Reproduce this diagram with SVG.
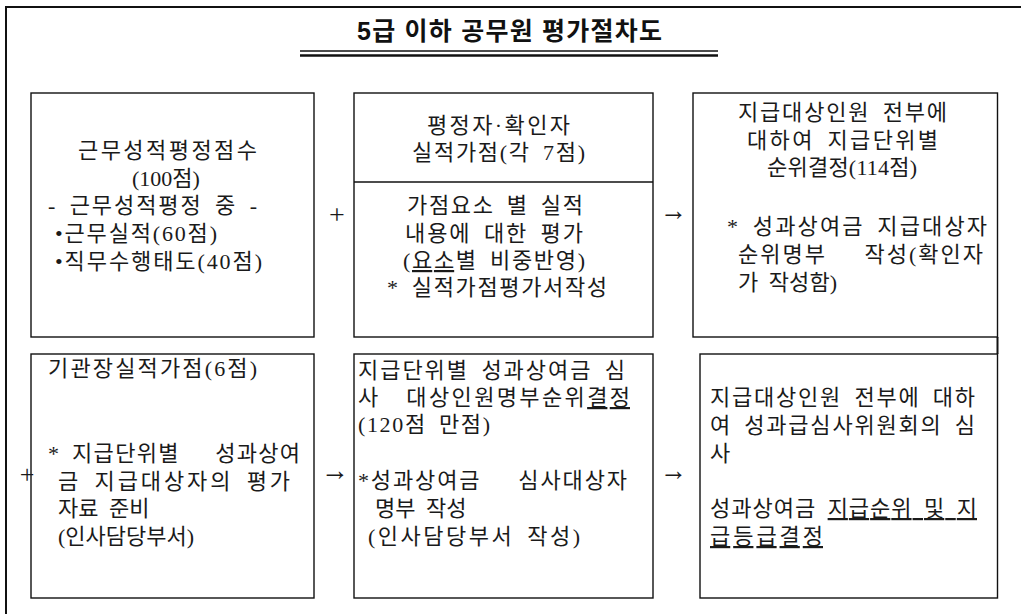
<svg xmlns="http://www.w3.org/2000/svg" width="1021" height="614" viewBox="0 0 1021 614">
<style>
.t{font-family:"Liberation Serif","Noto Sans CJK KR",serif;font-size:22px;fill:#1a1a1a;white-space:pre;word-spacing:5px}
.m{text-anchor:middle}
.u{text-decoration:underline}
.box{fill:#fff;stroke:#111;stroke-width:1.4}
.frame{stroke:#111;stroke-width:2;fill:none}
.sym{font-family:"Liberation Serif","DejaVu Serif",serif;fill:#1a1a1a;text-anchor:middle}
.arr{font-family:"Liberation Serif","DejaVu Serif",serif;fill:#1a1a1a;font-size:30px}
.title{font-family:"Liberation Sans","Noto Sans CJK KR",sans-serif;font-size:25px;font-weight:bold;fill:#111;text-anchor:middle;white-space:pre}
</style>
<rect width="1021" height="614" fill="#fff"/>
<g id="frame">
<line class="frame" x1="5" y1="7" x2="1021" y2="7" stroke-width="2.5"/>
<line class="frame" x1="6" y1="7" x2="6" y2="614"/>
<line class="frame" x1="997.5" y1="337" x2="997.5" y2="354" stroke-width="1.4"/>
</g>
<g id="title">
<text class="title" x="509.5" y="40" textLength="305" lengthAdjust="spacing">5급 이하 공무원 평가절차도</text>
<line x1="300" y1="51" x2="718" y2="51" stroke="#111" stroke-width="1.5"/>
<line x1="300" y1="55.5" x2="718" y2="55.5" stroke="#111" stroke-width="2.5"/>
</g>
<g id="node-a">
<rect class="box" x="31" y="93" width="283" height="244"/>
<text class="t" x="78" y="158" textLength="179">근무성적평정점수</text>
<text class="t" x="132" y="186">(100점)</text>
<text class="t" x="48" y="213" textLength="209">- 근무성적평정 중 -</text>
<text class="t" x="55" y="241" textLength="162">•근무실적(60점)</text>
<text class="t" x="55" y="269" textLength="207">•직무수행태도(40점)</text>
</g>
<g id="node-b">
<rect class="box" x="354" y="93" width="299" height="244"/>
<line x1="354" y1="182" x2="653" y2="182" stroke="#111" stroke-width="1.4"/>
<text class="t m" x="498.5" y="133" textLength="143">평정자·확인자</text>
<text class="t m" x="498.5" y="160" textLength="173">실적가점(각 7점)</text>
<text class="t m" x="495" y="213" textLength="176">가점요소 별 실적</text>
<text class="t m" x="494" y="241" textLength="178">내용에 대한 평가</text>
<text class="t m" x="494" y="268" textLength="182">(<tspan class="u">요소</tspan>별 비중반영)</text>
<text class="t m" x="497" y="295" textLength="220">* 실적가점평가서작성</text>
</g>
<g id="node-c">
<rect class="box" x="693" y="93" width="304.5" height="244"/>
<text class="t" x="738" y="120" textLength="209">지급대상인원 전부에</text>
<text class="t" x="747" y="148" textLength="191">대하여 지급단위별</text>
<text class="t" x="767" y="175" textLength="150">순위결정(114점)</text>
<text class="t" x="727" y="234" textLength="260">* 성과상여금 지급대상자</text>
<text class="t" x="738" y="262" textLength="245">순위명부   작성(확인자</text>
<text class="t" x="738" y="290" textLength="99">가 작성함)</text>
</g>
<g id="node-d">
<rect class="box" x="31" y="354" width="283" height="244"/>
<text class="t" x="48" y="376" textLength="209">기관장실적가점(6점)</text>
<text class="t" x="48" y="461" textLength="252">* 지급단위별   성과상여</text>
<text class="t" x="58" y="489" textLength="232">금 지급대상자의 평가</text>
<text class="t" x="58" y="516">자료 준비</text>
<text class="t" x="58" y="544">(인사담당부서)</text>
</g>
<g id="node-e">
<rect class="box" x="354" y="354" width="299" height="244"/>
<text class="t" x="358" y="378" textLength="267">지급단위별 성과상여금 심</text>
<text class="t" x="358" y="405" textLength="272">사  대상인원명부순위<tspan class="u">결정</tspan></text>
<text class="t" x="358" y="432" textLength="132">(120점 만점)</text>
<text class="t" x="358" y="488" textLength="269">*성과상여금   심사대상자</text>
<text class="t" x="375" y="516">명부 작성</text>
<text class="t" x="368" y="544" textLength="212">(인사담당부서 작성)</text>
</g>
<g id="node-f">
<rect class="box" x="700" y="354" width="297.5" height="244"/>
<text class="t" x="710" y="405" textLength="265">지급대상인원 전부에 대하</text>
<text class="t" x="710" y="433" textLength="265">여 성과급심사위원회의 심</text>
<text class="t" x="710" y="461">사</text>
<text class="t" x="710" y="516" textLength="267">성과상여금 <tspan class="u">지급순위 및 지</tspan></text>
<text class="t u" x="710" y="544" textLength="113">급등급결정</text>
</g>
<g id="connectors">
<text class="sym" x="337" y="224" font-size="28">+</text>
<text class="arr" x="660" y="220" textLength="27" lengthAdjust="spacingAndGlyphs">→</text>
<text class="sym" x="27" y="483" font-size="26">+</text>
<text class="arr" x="321" y="480" textLength="28" lengthAdjust="spacingAndGlyphs">→</text>
<text class="arr" x="660" y="480" textLength="27" lengthAdjust="spacingAndGlyphs">→</text>
</g>
</svg>
